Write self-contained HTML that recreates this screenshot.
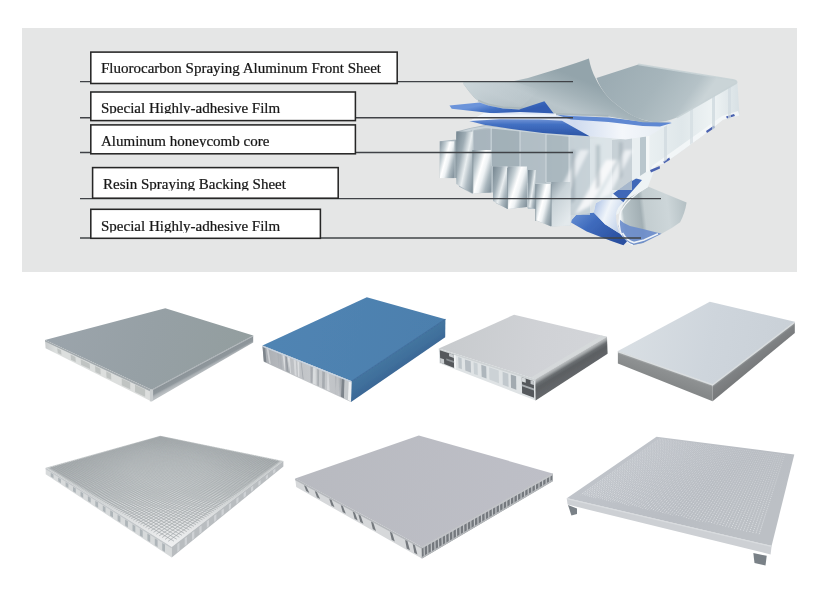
<!DOCTYPE html>
<html lang="en">
<head>
<meta charset="utf-8">
<title>Aluminum honeycomb panel structure</title>
<style>
html,body{margin:0;padding:0;background:#ffffff;}
body{width:818px;height:594px;overflow:hidden;position:relative;font-family:"Liberation Serif",serif;}
svg{position:absolute;left:0;top:0;display:block;}
text{font-family:"Liberation Serif",serif;font-size:15px;fill:#151515;stroke:#151515;stroke-width:0.22px;}
</style>
</head>
<body>
<svg width="818" height="594" viewBox="0 0 818 594">
<defs>
  <filter id="soft" x="-5%" y="-5%" width="110%" height="110%"><feGaussianBlur stdDeviation="0.45"/></filter>
  <filter id="soft2" x="-5%" y="-5%" width="110%" height="110%"><feGaussianBlur stdDeviation="0.8"/></filter>
  <filter id="softI" x="-5%" y="-5%" width="110%" height="110%"><feGaussianBlur stdDeviation="0.6"/></filter>
  <filter id="soft3" x="-10%" y="-10%" width="120%" height="120%"><feGaussianBlur stdDeviation="1.6"/></filter>
  <clipPath id="c2"><rect x="91" y="92" width="264" height="21.6"/></clipPath>
  <clipPath id="c3"><rect x="91" y="125" width="264" height="22"/></clipPath>
  <clipPath id="c4"><rect x="93" y="168" width="245" height="22.6"/></clipPath>
  <clipPath id="c5"><rect x="91" y="209" width="229" height="23.4"/></clipPath>
  <linearGradient id="p1top" gradientUnits="userSpaceOnUse" x1="60" y1="320" x2="240" y2="370"><stop offset="0" stop-color="#9ba4ab"/><stop offset="0.5" stop-color="#96a0a5"/><stop offset="1" stop-color="#939e9f"/></linearGradient>
  <linearGradient id="p1side" gradientUnits="userSpaceOnUse" x1="45" y1="0" x2="152" y2="0"><stop offset="0" stop-color="#c9cccd"/><stop offset="0.1" stop-color="#dcdfde"/><stop offset="1" stop-color="#dcdedd"/></linearGradient>
  <linearGradient id="p2top" gradientUnits="userSpaceOnUse" x1="280" y1="320" x2="440" y2="360"><stop offset="0" stop-color="#5084b3"/><stop offset="1" stop-color="#4c7fad"/></linearGradient>
  <linearGradient id="p2side" gradientUnits="userSpaceOnUse" x1="263" y1="0" x2="352" y2="0"><stop offset="0" stop-color="#a9adb2"/><stop offset="0.3" stop-color="#bcbfc3"/><stop offset="0.6" stop-color="#c7cacd"/><stop offset="1" stop-color="#babdc1"/></linearGradient>
  <linearGradient id="p3top" gradientUnits="userSpaceOnUse" x1="450" y1="330" x2="600" y2="360"><stop offset="0" stop-color="#c8cbce"/><stop offset="0.6" stop-color="#d0d2d6"/><stop offset="1" stop-color="#d3d5d9"/></linearGradient>
  <linearGradient id="p4top" gradientUnits="userSpaceOnUse" x1="630" y1="330" x2="790" y2="360"><stop offset="0" stop-color="#d8dee3"/><stop offset="0.5" stop-color="#ced5dc"/><stop offset="1" stop-color="#c9d0d7"/></linearGradient>
  <linearGradient id="p5top" gradientUnits="userSpaceOnUse" x1="165" y1="436" x2="168" y2="548"><stop offset="0" stop-color="#c5c9ca"/><stop offset="0.5" stop-color="#cbcfd0"/><stop offset="0.75" stop-color="#dfe1e2"/><stop offset="1" stop-color="#f0f1f2"/></linearGradient>
  <linearGradient id="p6top" gradientUnits="userSpaceOnUse" x1="300" y1="450" x2="540" y2="520"><stop offset="0" stop-color="#b8bac0"/><stop offset="1" stop-color="#bebfc7"/></linearGradient>
  <linearGradient id="p7top" gradientUnits="userSpaceOnUse" x1="640" y1="440" x2="720" y2="545"><stop offset="0" stop-color="#c0c4ca"/><stop offset="0.6" stop-color="#b9bdc3"/><stop offset="1" stop-color="#bcc0c5"/></linearGradient>
  <linearGradient id="p1right" gradientUnits="userSpaceOnUse" x1="202.3" y1="362.7" x2="206.3" y2="370.1"><stop offset="0" stop-color="#8a9297"/><stop offset="0.55" stop-color="#8f979c"/><stop offset="0.75" stop-color="#a9afb3"/><stop offset="1" stop-color="#b9bec1"/></linearGradient>
  <linearGradient id="p2right" gradientUnits="userSpaceOnUse" x1="398.6" y1="350.3" x2="407.3" y2="363.5"><stop offset="0" stop-color="#44759f"/><stop offset="0.5" stop-color="#40709c"/><stop offset="1" stop-color="#3b6896"/></linearGradient>
  <linearGradient id="p3right" gradientUnits="userSpaceOnUse" x1="571.1" y1="358.0" x2="579.5" y2="372.1"><stop offset="0" stop-color="#c0c3c5"/><stop offset="0.14" stop-color="#a2a6a8"/><stop offset="0.3" stop-color="#6a6e71"/><stop offset="0.5" stop-color="#5b5f62"/><stop offset="1" stop-color="#636669"/></linearGradient>
  <linearGradient id="p4side" gradientUnits="userSpaceOnUse" x1="665.2" y1="367.8" x2="660.7" y2="380.7"><stop offset="0" stop-color="#b2b5b6"/><stop offset="0.2" stop-color="#8e9192"/><stop offset="1" stop-color="#858889"/></linearGradient>
  <linearGradient id="p4right" gradientUnits="userSpaceOnUse" x1="753.7" y1="353.1" x2="760.5" y2="362.0"><stop offset="0" stop-color="#a5a8aa"/><stop offset="0.25" stop-color="#7f8284"/><stop offset="1" stop-color="#787a7c"/></linearGradient>
  <radialGradient id="m5g" gradientUnits="userSpaceOnUse" cx="168" cy="0" r="105" gradientTransform="translate(0,468) scale(1,0.5)"><stop offset="0" stop-color="#000"/><stop offset="0.35" stop-color="#1a1a1a"/><stop offset="0.7" stop-color="#999"/><stop offset="1" stop-color="#fff"/></radialGradient>
  <mask id="m5" maskUnits="userSpaceOnUse" x="40" y="430" width="250" height="125"><rect x="40" y="430" width="250" height="125" fill="url(#m5g)"/></mask>
  <linearGradient id="m7g" gradientUnits="userSpaceOnUse" x1="700" y1="440" x2="680" y2="540"><stop offset="0" stop-color="#555"/><stop offset="0.5" stop-color="#999"/><stop offset="1" stop-color="#fff"/></linearGradient>
  <mask id="m7" maskUnits="userSpaceOnUse" x="560" y="430" width="240" height="125"><rect x="560" y="430" width="240" height="125" fill="url(#m7g)"/></mask>
  <linearGradient id="gTop" gradientUnits="userSpaceOnUse" x1="615" y1="66" x2="690" y2="118"><stop offset="0" stop-color="#9cacb3"/><stop offset="0.5" stop-color="#a6b5bb"/><stop offset="0.85" stop-color="#b5c2c7"/><stop offset="1" stop-color="#cad4d7"/></linearGradient>
  <linearGradient id="gPeel" gradientUnits="userSpaceOnUse" x1="548" y1="66" x2="528" y2="116"><stop offset="0" stop-color="#93a4ab"/><stop offset="0.3" stop-color="#a3b2b8"/><stop offset="0.62" stop-color="#b9c5ca"/><stop offset="0.85" stop-color="#b4c0c5"/><stop offset="1" stop-color="#9eadb3"/></linearGradient>
  <linearGradient id="gPeelL" gradientUnits="userSpaceOnUse" x1="463" y1="0" x2="540" y2="0"><stop offset="0" stop-color="#cdd7db" stop-opacity="0.95"/><stop offset="0.5" stop-color="#c8d2d7" stop-opacity="0.6"/><stop offset="1" stop-color="#c8d2d7" stop-opacity="0"/></linearGradient>
  <linearGradient id="gSide" gradientUnits="userSpaceOnUse" x1="650" y1="0" x2="740" y2="0"><stop offset="0" stop-color="#e9eff1"/><stop offset="0.35" stop-color="#dfe7ea"/><stop offset="0.7" stop-color="#eef3f4"/><stop offset="1" stop-color="#d7e0e4"/></linearGradient>
  <linearGradient id="gBlueA" gradientUnits="userSpaceOnUse" x1="500" y1="101" x2="503" y2="115"><stop offset="0" stop-color="#6c94da"/><stop offset="0.45" stop-color="#4371c4"/><stop offset="1" stop-color="#315cb2"/></linearGradient>
  <linearGradient id="gBlueB" gradientUnits="userSpaceOnUse" x1="0" y1="119" x2="0" y2="135"><stop offset="0" stop-color="#6f93d6"/><stop offset="0.35" stop-color="#4270c2"/><stop offset="1" stop-color="#2e57a8"/></linearGradient>
  <linearGradient id="gBand" gradientUnits="userSpaceOnUse" x1="470" y1="0" x2="660" y2="0"><stop offset="0" stop-color="#f7f9fc"/><stop offset="0.3" stop-color="#e9eff8"/><stop offset="0.55" stop-color="#cfdbef"/><stop offset="0.8" stop-color="#f4f7fb"/><stop offset="1" stop-color="#e8eef4"/></linearGradient>
  <linearGradient id="gCore" gradientUnits="userSpaceOnUse" x1="440" y1="0" x2="650" y2="0"><stop offset="0" stop-color="#a7b4bc"/><stop offset="0.45" stop-color="#bcc7cd"/><stop offset="0.75" stop-color="#dbe3e7"/><stop offset="1" stop-color="#edf2f3"/></linearGradient>
  <linearGradient id="gCell" gradientUnits="objectBoundingBox" x1="0" y1="0.15" x2="1" y2="0.85"><stop offset="0" stop-color="#94a2ab"/><stop offset="0.22" stop-color="#c3ced3"/><stop offset="0.42" stop-color="#ffffff"/><stop offset="0.58" stop-color="#eef2f4"/><stop offset="0.8" stop-color="#a9b6bd"/><stop offset="1" stop-color="#8796a0"/></linearGradient>
  <linearGradient id="gCellD" gradientUnits="objectBoundingBox" x1="0" y1="0.1" x2="1" y2="0.9"><stop offset="0" stop-color="#7b8b95"/><stop offset="0.3" stop-color="#9eacb4"/><stop offset="0.55" stop-color="#e9eef0"/><stop offset="0.75" stop-color="#b0bcc3"/><stop offset="1" stop-color="#82929c"/></linearGradient>
  <linearGradient id="gCurl" gradientUnits="userSpaceOnUse" x1="620" y1="212" x2="688" y2="204"><stop offset="0" stop-color="#f2f6f7"/><stop offset="0.05" stop-color="#b9c5c9"/><stop offset="0.3" stop-color="#a2afb4"/><stop offset="0.36" stop-color="#c3cdd0"/><stop offset="0.7" stop-color="#cdd6d9"/><stop offset="1" stop-color="#b2bec2"/></linearGradient>
  <linearGradient id="gBlue2" gradientUnits="userSpaceOnUse" x1="580" y1="212" x2="612" y2="246"><stop offset="0" stop-color="#5f88cf"/><stop offset="0.35" stop-color="#3f6bbd"/><stop offset="1" stop-color="#2a50a0"/></linearGradient>
  <linearGradient id="gSilver" gradientUnits="userSpaceOnUse" x1="592" y1="210" x2="622" y2="222"><stop offset="0" stop-color="#aec3e6"/><stop offset="0.45" stop-color="#f0f5fa"/><stop offset="1" stop-color="#c2d2ea"/></linearGradient>
  <linearGradient id="gCellM" gradientUnits="objectBoundingBox" x1="0" y1="0" x2="0.6" y2="1"><stop offset="0" stop-color="#8e9da6"/><stop offset="0.4" stop-color="#c9d3d8"/><stop offset="1" stop-color="#e3e9ec"/></linearGradient>

</defs>

<!-- grey diagram panel -->
<rect x="22" y="28" width="775" height="244" fill="#e5e6e6"/>

<g filter="url(#softI)">
<path d="M647.9,186.5 L686.6,202.5 Q685,213 680.1,222.2 Q672,228.5 661.5,233.7 L642.9,243 L632.9,245.1 Q627,243 624.3,239.4 Q620,233 618.6,226.5 Q618.3,219 620,212.2 Q623,204 628.6,197.9 Z" fill="url(#gCurl)"/>
<path d="M619.6,219.4 Q624,224 630,226 L642.9,229 L661.5,233.7 L642.9,243 L632.9,245.1 Q627,243 624.3,239.4 Q620,233 618.6,226.5 Z" fill="#6a8ccb" opacity="0.9"/>
<path d="M622.5,233 Q627,241 634,242.6 L644,240 L658,233.8" stroke="#eef3f8" stroke-width="1.6" fill="none"/>
<path d="M647.9,186.5 Q628,198 621,211 Q617,224 622,236 Q626,243 632.9,245.1" stroke="#f4f7f9" stroke-width="1.3" fill="none"/>
<path d="M634.4,178 L647.2,171 L656.4,165.5 L652,176 L648,186.8 L628.9,198 Q621,205 619,213.2 L616,215 Q616,206 623.4,202.2 L613,193.6 Z" fill="#eef3f5"/>
<path d="M571.5,220 L576,215 L593.7,212.5 L605,224.2 L619.7,233.4 L627,241.6 L623.4,245.3 L610.5,240.7 L586.7,231.5 L571,222.4 Z" fill="url(#gBlue2)"/>
<path d="M595.7,203.3 L613,193.6 L623.4,202.2 Q616,208 616,215 Q616,225 619.7,233.4 L605,224.2 L593.7,212.5 Z" fill="url(#gSilver)"/>
<path d="M613,193.6 L634.4,178 L642,180 L626.6,197.5 L623.4,202.2 Z" fill="#3f68b8"/>
<path d="M439.8,141.3 L456,139.5 L456.3,131.6 L470,128 L485,125 L560,134 L610,138 L649.5,135.5 L649.5,172 L647.2,171 L634.4,178 L613,193.6 L595.7,203.3 L593.7,212.5 L576,215 L571.5,220 L570.6,225.5 L551.2,226.5 L536.7,220.7 L535.7,209 L528,209 L527,207 L507.6,209.1 L496,203.3 L493,192.6 L491.2,192.6 L471.8,193.6 L459.2,186.8 L456.3,178.1 L439.8,178.1 Z" fill="url(#gCore)"/>
<path d="M456.3,133.6 L472.8,131.6 L472.8,166 L456.3,166 Z" fill="#98a7af" opacity="0.8"/>
<path d="M472.8,131 L491.2,129 L491.2,166 L472.8,166 Z" fill="#a6b3bb" opacity="0.8"/>
<path d="M491.2,129 L520,127 L520,166 L491.2,166 Z" fill="#9eacb4" opacity="0.8"/>
<path d="M520,132 L546,130 L546,183 L520,183 Z" fill="#afbcc3" opacity="0.8"/>
<path d="M546,135 L569,133 L569,182 L546,182 Z" fill="#a3b1b9" opacity="0.8"/>
<path d="M569,137 L590,135 L590,215 L569,215 Z" fill="#c3ced4" opacity="0.8"/>
<path d="M590,139 L612,137 L612,200 L590,200 Z" fill="#dbe3e7" opacity="0.8"/>
<path d="M612,140 L632,138 L632,190 L612,190 Z" fill="#c0cbd1" opacity="0.8"/>
<path d="M457,133.5 L471,129.5 L486,127 L530,131.5 L575,136.5" stroke="#ccd6db" stroke-width="2" fill="none" opacity="0.9"/>
<path d="M472.8,130 L472.8,166" stroke="#d5dee2" stroke-width="1.2" opacity="0.75"/>
<path d="M491.2,128 L491.2,166" stroke="#d5dee2" stroke-width="1.2" opacity="0.75"/>
<path d="M520,131 L520,168" stroke="#d5dee2" stroke-width="1.2" opacity="0.75"/>
<path d="M546,134 L546,182" stroke="#d5dee2" stroke-width="1.2" opacity="0.75"/>
<path d="M569,136 L569,184" stroke="#d5dee2" stroke-width="1.2" opacity="0.75"/>
<path d="M632,138 L640,137.5 L640,176 L632,181 Z" fill="#e9eff1"/>
<path d="M640,137.5 L646,136.5 L646,172 L640,176 Z" fill="#b9c6cd"/>
<path d="M646,136.5 L649.8,135.5 L649.8,171 L646,172 Z" fill="#f4f7f8"/>
<g filter="url(#soft3)">
<path d="M575,214 L606,160 L617,160 L590,206 Z" fill="#fbfcfd" opacity="0.85"/>
<path d="M598,200 L625,150 L633,150 L610,194 Z" fill="#fbfcfd" opacity="0.7"/>
<path d="M555,200 L580,150 L589,150 L566,196 Z" fill="#fbfcfd" opacity="0.65"/>
<path d="M571,150 L575,150 L575,200 L571,204 Z" fill="#8f9ea7" opacity="0.55"/>
<path d="M596,145 L600,145 L600,186 L596,190 Z" fill="#8f9ea7" opacity="0.45"/>
<path d="M619,142 L622.5,142 L622.5,176 L619,180 Z" fill="#8f9ea7" opacity="0.45"/>
</g>
<path d="M439.8,141.3 L454.4,141.3 L454.4,178.1 L439.8,178.1 Z" fill="url(#gCell)"/>
<path d="M456.3,131.6 L472.8,131.6 L472.8,193.6 L456.3,184 Z" fill="url(#gCellD)"/>
<path d="M472.8,150 L491.2,150 L491.2,192.6 L472.8,193.6 Z" fill="url(#gCell)"/>
<path d="M493,166.5 L507.6,166.5 L507.6,209.1 L493,201 Z" fill="url(#gCellD)"/>
<path d="M507.6,166.5 L527,166.5 L527,207 L507.6,209.1 Z" fill="url(#gCell)"/>
<path d="M528,170 L535.7,170 L535.7,209 L528,207 Z" fill="url(#gCellD)"/>
<path d="M535.7,183.9 L551.2,183.9 L551.2,226.5 L535.7,220 Z" fill="url(#gCell)"/>
<path d="M551.2,182 L570.6,182 L570.6,225.5 L551.2,226.5 Z" fill="url(#gCellM)"/>
<path d="M456,140 L456,178" stroke="#7f8e97" stroke-width="0.9" opacity="0.8"/>
<path d="M472.8,150 L472.8,193" stroke="#7f8e97" stroke-width="0.9" opacity="0.8"/>
<path d="M507.6,168 L507.6,209" stroke="#7f8e97" stroke-width="0.9" opacity="0.8"/>
<path d="M535.7,184 L535.7,221" stroke="#7f8e97" stroke-width="0.9" opacity="0.8"/>
<path d="M551.2,184 L551.2,226" stroke="#7f8e97" stroke-width="0.9" opacity="0.8"/>
<path d="M649.5,135.5 L676.8,117.6 L737.4,82 L739.5,115.4 L723,119.8 L703.2,135.2 L679,152.9 L663.6,163.8 L656.4,165.5 L649.5,172 Z" fill="url(#gSide)"/>
<path d="M652,166 L680,146 L704,129 L722,116 L738,111 L739.5,115.4 L723,119.8 L703.2,135.2 L679,152.9 L663.6,163.8 L656.4,165.5 L649.5,172 Z" fill="#f6f9fa" opacity="0.8"/>
<polygon points="650,170 659.6,166 660,168.4 651,172.5" fill="#4a62b0"/>
<polygon points="663.4,161.6 669.3,157.5 670,159.7 664,163.6" fill="#4a62b0"/>
<polygon points="706,131 714,125.5 715,127.5 707,133" fill="#4a62b0"/>
<polygon points="726,116.5 734,114 735,116 727,118.6" fill="#4a62b0"/>
<path d="M664,126.0 L667,124.0 L667,160.0 L664,162.0 Z" fill="#cfd9de" opacity="0.7"/>
<path d="M690,110.4 L693,108.4 L693,142.8 L690,144.8 Z" fill="#d3dde1" opacity="0.7"/>
<path d="M712,97.2 L715,95.2 L715,128.3 L712,130.3 Z" fill="#cbd6db" opacity="0.7"/>
<path d="M728,87.6 L731,85.6 L731,117.8 L728,119.8 Z" fill="#d0dadf" opacity="0.7"/>
<path d="M596.5,78 L638.3,64.4 L734,80 Q738,81 736,83.5 L676.8,117.6 Q664,123 652.6,122 Q637,119 628.4,113.2 Q616,105 608.6,97.8 Q600,88 596.5,78 Z" fill="url(#gTop)"/>
<path d="M638.3,64.4 L734,80 Q738,81 736,83.5 L676.8,117.6" stroke="#c7d1d5" stroke-width="1.6" fill="none" opacity="0.9"/>
<path d="M484,113 L560,113 L608.5,118.2 L642.7,122.5 L671.8,122.5 L649.5,135.8 L625.6,139.6 L589.6,136.2 L560,128 L520,120 L469.3,120.9 Z" fill="url(#gBand)"/>
<path d="M469.3,120.9 L500,119.3 L540,119.6 L562,120.8 L577.6,129.4 L589.6,136.2 L560,134.3 L542.7,132.9 L513.3,129.2 L484,124.8 Z" fill="url(#gBlueB)"/>
<path d="M556,114.5 L570.8,116 L608.5,117.4 L642.7,121.7 L670,122.6 L671.8,123 L660,126.6 L642.7,126 L608.5,122 L570.8,119.6 Z" fill="#5f88d2"/>
<path d="M463.5,82.6 L513,81.2 L528,77.9 L542.7,73.5 L560,68.3 Q577,63 588.9,58.6 Q591,70 595.4,78 Q600,88 608.6,97.8 Q616,105 628.4,113.2 Q640,120 652.6,122 Q662,123 671,121.8 L642.7,122.2 L608.5,116.4 L555.9,114.5 L519,108.7 L503,108 L488.4,105 Q480,102 475.2,98.4 Q469,92 463.5,84 Z" fill="url(#gPeel)"/>
<path d="M463.5,82.6 L513,81.2 L540,90 L519,108.7 L503,108 L488.4,105 Q480,102 475.2,98.4 Q469,92 463.5,84 Z" fill="url(#gPeelL)"/>
<path d="M478,100.5 Q483,103 488.4,104.6 L503,107.6 L519,108.3 L555.9,114 L608.5,116" stroke="#9fadb3" stroke-width="2.2" fill="none" opacity="0.55"/>
<path d="M449.5,105.4 L479.6,102.5 L488.4,105.4 L503,108.4 L519.2,109.4 L544.4,101.3 L554.4,114.5 L503,114.5 L476.7,111.6 L451.7,108.7 Z" fill="url(#gBlueA)"/>
<path d="M484,113.4 L520,112 L556,113.6 L556,116 L520,116.6 L480,116 Z" fill="#f3f6fb" opacity="0.9"/>
</g>


<!-- leader lines -->
<g stroke="#404346" stroke-width="1.45" fill="none" filter="url(#soft)">
  <line x1="80" y1="81.6" x2="573" y2="81.6"/>
  <line x1="80" y1="117.8" x2="573" y2="117.8"/>
  <line x1="80" y1="152.4" x2="573" y2="152.4"/>
  <line x1="80" y1="198.6" x2="661" y2="198.6"/>
  <line x1="80" y1="238" x2="641" y2="238"/>
</g>

<!-- label boxes -->
<g fill="#ffffff" stroke="#262626" stroke-width="1.55" filter="url(#soft)">
  <rect x="90.8" y="52.1" width="306.4" height="31.4"/>
  <rect x="90.8" y="92" width="264.6" height="28.6"/>
  <rect x="90.8" y="124.9" width="264.6" height="28.9"/>
  <rect x="92.6" y="167.6" width="245.6" height="30.6"/>
  <rect x="90.8" y="209.3" width="229.6" height="29"/>
</g>
<g filter="url(#soft)">
  <text x="101" y="73.1">Fluorocarbon Spraying Aluminum Front Sheet</text>
  <g clip-path="url(#c2)"><text x="101" y="112.6">Special Highly-adhesive Film</text></g>
  <g clip-path="url(#c3)"><text x="101" y="146.2">Aluminum honeycomb core</text></g>
  <g clip-path="url(#c4)"><text x="103" y="189">Resin Spraying Backing Sheet</text></g>
  <g clip-path="url(#c5)"><text x="101" y="231">Special Highly-adhesive Film</text></g>
</g>

<!-- product 1 : grey honeycomb panel -->
<g filter="url(#soft)">
<polygon points="45.0,340.0 165.3,308.2 253.2,335.6 151.5,389.8" fill="url(#p1top)"/>
<polygon points="45.0,340.0 151.5,389.8 151.5,401.6 45.6,348.3" fill="url(#p1side)"/>
<polygon points="45.0,340.0 151.5,389.8 151.5,392.0 45.0,341.6" fill="#a3aaae"/>
<polygon points="57.2,348.3 61.0,350.3 61.5,354.7 57.8,353.0" fill="#aeb2b0" opacity="0.6"/>
<polygon points="70.6,354.6 75.4,357.0 75.8,361.9 71.0,359.7" fill="#aeb2b0" opacity="0.6"/>
<polygon points="80.7,359.3 89.7,363.7 90.1,369.1 81.1,364.8" fill="#aeb2b0" opacity="0.6"/>
<polygon points="95.1,366.0 100.4,368.7 100.7,374.4 95.4,372.0" fill="#aeb2b0" opacity="0.6"/>
<polygon points="106.2,371.2 111.0,373.7 111.3,379.7 106.5,377.5" fill="#aeb2b0" opacity="0.6"/>
<polygon points="121.7,378.5 130.2,382.6 130.3,389.3 121.8,385.3" fill="#aeb2b0" opacity="0.6"/>
<polygon points="135.0,384.7 145.1,389.6 145.1,396.8 135.1,391.9" fill="#aeb2b0" opacity="0.6"/>
<polygon points="151.5,389.8 253.2,335.6 253.2,342.4 151.5,401.6" fill="url(#p1right)"/>
<path d="M151.5,390.40000000000003 L253.2,336.1" stroke="#b3b9bd" stroke-width="1" fill="none"/>
<polygon points="149.9,389.4 153.1,389.4 153.1,401.0 149.9,401.4" fill="#c9cdcf"/>
</g>
<!-- product 2 : blue panel -->
<g filter="url(#soft)">
<polygon points="262.5,345.4 366.8,297.3 445.4,319.3 351.8,381.3" fill="url(#p2top)"/>
<polygon points="262.5,345.4 351.8,381.3 351.0,402.0 263.8,361.8" fill="url(#p2side)"/>
<polygon points="283.5,355.3 284.4,355.7 284.6,370.4 284.7,370.4" fill="#f3f4f5" opacity="0.55"/>
<polygon points="266.7,348.6 268.5,349.3 270.8,364.0 269.1,363.3" fill="#e9ebec" opacity="0.55"/>
<polygon points="282.4,354.9 284.2,355.6 286.3,371.2 284.4,370.3" fill="#e9ebec" opacity="0.55"/>
<polygon points="285.5,356.2 288.1,357.2 290.0,372.9 287.6,371.8" fill="#8e949a" opacity="0.55"/>
<polygon points="327.4,373.0 328.5,373.4 329.6,391.1 327.0,389.9" fill="#e9ebec" opacity="0.55"/>
<polygon points="339.8,378.0 342.2,378.9 342.4,397.0 338.7,395.3" fill="#e9ebec" opacity="0.55"/>
<polygon points="317.4,369.0 319.1,369.6 318.9,386.2 317.1,385.4" fill="#9ba1a6" opacity="0.55"/>
<polygon points="338.6,377.5 340.9,378.4 339.5,395.7 339.4,395.7" fill="#a5abb0" opacity="0.55"/>
<polygon points="287.9,357.1 290.0,357.9 291.1,373.4 289.9,372.8" fill="#e9ebec" opacity="0.55"/>
<polygon points="297.3,360.9 299.2,361.7 299.4,377.2 298.1,376.6" fill="#f3f4f5" opacity="0.55"/>
<polygon points="285.4,356.1 287.6,357.0 289.1,372.5 285.4,370.7" fill="#8e949a" opacity="0.55"/>
<polygon points="287.0,356.7 288.7,357.4 288.9,372.4 288.7,372.3" fill="#f3f4f5" opacity="0.55"/>
<polygon points="317.5,369.0 318.4,369.4 318.6,386.1 318.3,385.9" fill="#9ba1a6" opacity="0.55"/>
<polygon points="279.5,353.7 281.0,354.3 282.5,369.4 280.3,368.4" fill="#a5abb0" opacity="0.55"/>
<polygon points="335.4,376.2 336.3,376.6 335.8,394.0 336.0,394.1" fill="#8e949a" opacity="0.55"/>
<polygon points="310.4,366.2 312.8,367.1 312.5,383.3 310.6,382.4" fill="#8e949a" opacity="0.55"/>
<polygon points="300.8,362.3 301.6,362.6 303.6,379.2 302.7,378.7" fill="#8e949a" opacity="0.55"/>
<polygon points="322.3,370.9 324.9,372.0 324.7,388.9 322.1,387.7" fill="#8e949a" opacity="0.55"/>
<polygon points="277.1,352.8 279.1,353.6 279.3,367.9 278.9,367.8" fill="#a5abb0" opacity="0.55"/>
<polygon points="313.2,367.3 315.6,368.3 315.8,384.8 312.8,383.4" fill="#e9ebec" opacity="0.55"/>
<polygon points="339.9,378.0 341.3,378.6 341.0,396.4 339.5,395.7" fill="#8e949a" opacity="0.55"/>
<polygon points="293.6,359.4 295.8,360.3 296.6,375.9 294.7,375.1" fill="#e9ebec" opacity="0.55"/>
<polygon points="262.5,346.6 265.2,347.7 266.4,362.4 263.8,361.2" fill="#7e858c"/>
<polygon points="341.5,378.4 344.7,379.6 344.0,398.2 341.0,396.8" fill="#7d848b"/>
<polygon points="344.7,379.6 348.7,381.2 347.9,400.0 344.0,398.2" fill="#c5c9cc"/>
<polygon points="348.7,381.2 351.8,382.5 351.0,401.4 347.9,400.0" fill="#eef0f1"/>
<path d="M262.5,346.2 L351.8,382.1" stroke="#c9d6e4" stroke-width="1.1" fill="none"/>
<polygon points="351.8,381.3 445.4,319.3 445.2,337.2 351.0,402.0" fill="url(#p2right)"/>
<path d="M351.8,381.3 L445.4,319.3" stroke="#416f9e" stroke-width="1.2" fill="none"/>
</g>
<!-- product 3 : framed panel -->
<g filter="url(#soft)">
<polygon points="438.8,348.4 514.1,314.7 607.0,336.8 535.3,379.2" fill="url(#p3top)"/>
<polygon points="535.3,379.2 607.0,336.8 601.4,335.5 530.5,377.7" fill="#d6d9db" opacity="0.8"/>
<polygon points="438.8,348.4 535.3,379.2 535.6,400.4 439.4,363.2" fill="#dfe3e5"/>
<polygon points="438.8,348.4 535.3,379.2 535.3,381.3 438.9,349.9" fill="#cfd3d5"/>
<polygon points="439.8,350.2 453.8,354.8 454.3,367.9 440.3,362.5" fill="#54585b"/>
<polygon points="521.8,377.3 533.9,381.3 534.1,397.7 522.1,393.2" fill="#54585b"/>
<polygon points="453.8,354.8 455.7,355.4 456.2,368.9 454.3,368.2" fill="#f3f5f6"/>
<polygon points="449.0,353.2 453.8,354.8 453.9,357.9 449.1,356.3" fill="#c9cdd0"/>
<polygon points="440.1,357.9 444.0,359.3 444.2,364.0 440.3,362.5" fill="#c9cdd0"/>
<polygon points="446.3,358.4 454.0,361.1 454.1,363.0 446.4,360.2" fill="#8a8f93"/>
<polygon points="521.8,377.3 525.7,378.6 525.8,382.7 521.9,381.4" fill="#d5d9db"/>
<polygon points="521.9,384.2 534.0,388.4 534.0,390.6 522.0,386.3" fill="#a9aeb2"/>
<polygon points="530.5,380.2 533.9,381.3 533.9,385.1 530.6,383.9" fill="#c5c9cc"/>
<polygon points="458.2,357.1 461.6,358.2 461.9,369.3 458.6,368.1" fill="#b4bcc1" opacity="0.75"/>
<polygon points="464.9,359.4 470.7,361.3 471.1,372.8 465.3,370.6" fill="#a9b2b8" opacity="0.75"/>
<polygon points="473.6,362.2 477.5,363.5 477.8,375.3 474.0,373.9" fill="#c2c9cd" opacity="0.75"/>
<polygon points="481.3,364.8 486.2,366.4 486.5,378.6 481.7,376.7" fill="#9da7ad" opacity="0.75"/>
<polygon points="489.1,367.3 498.7,370.5 499.0,383.3 489.4,379.6" fill="#c5ccd0" opacity="0.75"/>
<polygon points="502.6,371.8 508.3,373.7 508.6,386.9 502.8,384.7" fill="#b7bfc4" opacity="0.75"/>
<polygon points="510.8,374.5 516.1,376.2 516.3,389.8 511.0,387.8" fill="#8e979d" opacity="0.75"/>
<polygon points="535.3,379.2 607.0,336.8 607.6,353.8 535.6,400.4" fill="url(#p3right)"/>
</g>
<!-- product 4 : solid panel -->
<g filter="url(#soft)">
<polygon points="617.9,351.1 709.8,301.7 794.8,321.8 712.6,384.5" fill="url(#p4top)"/>
<polygon points="617.9,351.1 712.6,384.5 712.6,401.2 617.9,363.6" fill="url(#p4side)"/>
<polygon points="712.6,384.5 794.8,321.8 794.8,333.0 712.6,401.2" fill="url(#p4right)"/>
<path d="M617.9,351.6 L712.6,385.0 L794.8,322.3" stroke="#dfe3e5" stroke-width="1.4" fill="none" opacity="0.9"/>
</g>
<!-- product 5 : perforated honeycomb panel -->
<g filter="url(#soft)">
<polygon points="45.7,467.8 160.3,435.7 283.4,460.9 171.7,547.0" fill="url(#p5top)"/>
<path d="M161.5,436.5L49.6,468.4M162.6,436.7L50.4,468.9M163.7,437.0L51.3,469.5M164.8,437.2L52.2,470.0M165.9,437.4L53.2,470.6M167.1,437.7L54.1,471.2M168.2,437.9L55.0,471.7M169.4,438.2L56.0,472.3M170.6,438.4L57.0,472.9M171.8,438.6L57.9,473.5M173.0,438.9L58.9,474.1M174.2,439.1L59.9,474.8M175.4,439.4L61.0,475.4M176.6,439.7L62.0,476.0M177.9,439.9L63.1,476.7M179.1,440.2L64.1,477.3M180.4,440.4L65.2,478.0M181.7,440.7L66.3,478.7M183.0,441.0L67.4,479.4M184.3,441.2L68.6,480.1M185.6,441.5L69.7,480.8M186.9,441.8L70.9,481.5M188.3,442.1L72.1,482.2M189.6,442.3L73.3,483.0M191.0,442.6L74.5,483.7M192.4,442.9L75.7,484.5M193.8,443.2L77.0,485.2M195.2,443.5L78.3,486.0M196.6,443.8L79.6,486.8M198.0,444.1L80.9,487.6M199.5,444.4L82.2,488.5M201.0,444.7L83.6,489.3M202.5,445.0L85.0,490.2M204.0,445.3L86.4,491.0M205.5,445.6L87.8,491.9M207.0,445.9L89.3,492.8M208.6,446.3L90.8,493.7M210.1,446.6L92.3,494.6M211.7,446.9L93.8,495.6M213.3,447.3L95.4,496.5M214.9,447.6L96.9,497.5M216.6,447.9L98.6,498.5M218.2,448.3L100.2,499.5M219.9,448.6L101.9,500.5M221.6,449.0L103.6,501.6M223.3,449.3L105.3,502.7M225.0,449.7L107.1,503.7M226.8,450.0L108.9,504.9M228.5,450.4L110.7,506.0M230.3,450.8L112.6,507.1M232.1,451.1L114.5,508.3M234.0,451.5L116.4,509.5M235.8,451.9L118.4,510.7M237.7,452.3L120.4,512.0M239.6,452.7L122.5,513.2M241.5,453.1L124.6,514.5M243.4,453.5L126.7,515.8M245.4,453.9L128.9,517.2M247.4,454.3L131.2,518.6M249.4,454.7L133.4,520.0M251.4,455.1L135.8,521.4M253.5,455.6L138.2,522.9M255.6,456.0L140.6,524.3M257.7,456.4L143.1,525.9M259.8,456.9L145.6,527.4M262.0,457.3L148.2,529.0M264.2,457.8L150.9,530.7M266.4,458.2L153.6,532.3M268.6,458.7L156.4,534.1M270.9,459.2L159.2,535.8M273.2,459.7L162.1,537.6M275.5,460.1L165.1,539.4M277.9,460.6L168.2,541.3M159.3,436.6L279.5,461.7M158.3,436.9L278.7,462.3M157.2,437.2L277.9,462.9M156.1,437.5L277.1,463.5M155.1,437.8L276.2,464.2M154.0,438.1L275.4,464.8M152.9,438.4L274.5,465.5M151.8,438.7L273.7,466.1M150.7,439.0L272.8,466.8M149.5,439.3L271.9,467.4M148.4,439.7L271.0,468.1M147.3,440.0L270.1,468.8M146.1,440.3L269.2,469.5M144.9,440.6L268.2,470.2M143.8,441.0L267.3,470.9M142.6,441.3L266.3,471.7M141.4,441.6L265.3,472.4M140.2,442.0L264.3,473.1M139.0,442.3L263.3,473.9M137.7,442.7L262.3,474.7M136.5,443.0L261.3,475.5M135.2,443.4L260.2,476.2M134.0,443.7L259.2,477.0M132.7,444.1L258.1,477.9M131.4,444.5L257.0,478.7M130.1,444.8L255.9,479.5M128.8,445.2L254.7,480.4M127.4,445.6L253.6,481.3M126.1,446.0L252.4,482.1M124.8,446.3L251.2,483.0M123.4,446.7L250.0,483.9M122.0,447.1L248.8,484.9M120.6,447.5L247.6,485.8M119.2,447.9L246.3,486.7M117.8,448.3L245.0,487.7M116.3,448.7L243.7,488.7M114.9,449.1L242.4,489.7M113.4,449.5L241.0,490.7M112.0,450.0L239.7,491.7M110.5,450.4L238.3,492.8M109.0,450.8L236.9,493.9M107.4,451.2L235.4,494.9M105.9,451.7L233.9,496.0M104.3,452.1L232.5,497.2M102.8,452.6L230.9,498.3M101.2,453.0L229.4,499.5M99.6,453.5L227.8,500.7M97.9,453.9L226.2,501.9M96.3,454.4L224.6,503.1M94.6,454.9L222.9,504.4M93.0,455.3L221.2,505.6M91.3,455.8L219.5,506.9M89.6,456.3L217.8,508.2M87.8,456.8L216.0,509.6M86.1,457.3L214.1,511.0M84.3,457.8L212.3,512.4M82.5,458.3L210.4,513.8M80.7,458.8L208.5,515.3M78.9,459.3L206.5,516.7M77.0,459.8L204.5,518.3M75.1,460.4L202.4,519.8M73.2,460.9L200.3,521.4M71.3,461.4L198.2,523.0M69.4,462.0L196.0,524.6M67.4,462.5L193.8,526.3M65.4,463.1L191.5,528.0M63.4,463.7L189.2,529.8M61.4,464.2L186.8,531.6M59.3,464.8L184.3,533.4M57.3,465.4L181.9,535.3M55.2,466.0L179.3,537.2M53.0,466.6L176.7,539.2M50.9,467.2L174.0,541.2" stroke="#9da2a6" stroke-width="0.7" opacity="0.45" fill="none"/>
<g mask="url(#m5)">
<path d="M161.5,436.5L49.6,468.4M162.6,436.7L50.4,468.9M163.7,437.0L51.3,469.5M164.8,437.2L52.2,470.0M165.9,437.4L53.2,470.6M167.1,437.7L54.1,471.2M168.2,437.9L55.0,471.7M169.4,438.2L56.0,472.3M170.6,438.4L57.0,472.9M171.8,438.6L57.9,473.5M173.0,438.9L58.9,474.1M174.2,439.1L59.9,474.8M175.4,439.4L61.0,475.4M176.6,439.7L62.0,476.0M177.9,439.9L63.1,476.7M179.1,440.2L64.1,477.3M180.4,440.4L65.2,478.0M181.7,440.7L66.3,478.7M183.0,441.0L67.4,479.4M184.3,441.2L68.6,480.1M185.6,441.5L69.7,480.8M186.9,441.8L70.9,481.5M188.3,442.1L72.1,482.2M189.6,442.3L73.3,483.0M191.0,442.6L74.5,483.7M192.4,442.9L75.7,484.5M193.8,443.2L77.0,485.2M195.2,443.5L78.3,486.0M196.6,443.8L79.6,486.8M198.0,444.1L80.9,487.6M199.5,444.4L82.2,488.5M201.0,444.7L83.6,489.3M202.5,445.0L85.0,490.2M204.0,445.3L86.4,491.0M205.5,445.6L87.8,491.9M207.0,445.9L89.3,492.8M208.6,446.3L90.8,493.7M210.1,446.6L92.3,494.6M211.7,446.9L93.8,495.6M213.3,447.3L95.4,496.5M214.9,447.6L96.9,497.5M216.6,447.9L98.6,498.5M218.2,448.3L100.2,499.5M219.9,448.6L101.9,500.5M221.6,449.0L103.6,501.6M223.3,449.3L105.3,502.7M225.0,449.7L107.1,503.7M226.8,450.0L108.9,504.9M228.5,450.4L110.7,506.0M230.3,450.8L112.6,507.1M232.1,451.1L114.5,508.3M234.0,451.5L116.4,509.5M235.8,451.9L118.4,510.7M237.7,452.3L120.4,512.0M239.6,452.7L122.5,513.2M241.5,453.1L124.6,514.5M243.4,453.5L126.7,515.8M245.4,453.9L128.9,517.2M247.4,454.3L131.2,518.6M249.4,454.7L133.4,520.0M251.4,455.1L135.8,521.4M253.5,455.6L138.2,522.9M255.6,456.0L140.6,524.3M257.7,456.4L143.1,525.9M259.8,456.9L145.6,527.4M262.0,457.3L148.2,529.0M264.2,457.8L150.9,530.7M266.4,458.2L153.6,532.3M268.6,458.7L156.4,534.1M270.9,459.2L159.2,535.8M273.2,459.7L162.1,537.6M275.5,460.1L165.1,539.4M277.9,460.6L168.2,541.3M159.3,436.6L279.5,461.7M158.3,436.9L278.7,462.3M157.2,437.2L277.9,462.9M156.1,437.5L277.1,463.5M155.1,437.8L276.2,464.2M154.0,438.1L275.4,464.8M152.9,438.4L274.5,465.5M151.8,438.7L273.7,466.1M150.7,439.0L272.8,466.8M149.5,439.3L271.9,467.4M148.4,439.7L271.0,468.1M147.3,440.0L270.1,468.8M146.1,440.3L269.2,469.5M144.9,440.6L268.2,470.2M143.8,441.0L267.3,470.9M142.6,441.3L266.3,471.7M141.4,441.6L265.3,472.4M140.2,442.0L264.3,473.1M139.0,442.3L263.3,473.9M137.7,442.7L262.3,474.7M136.5,443.0L261.3,475.5M135.2,443.4L260.2,476.2M134.0,443.7L259.2,477.0M132.7,444.1L258.1,477.9M131.4,444.5L257.0,478.7M130.1,444.8L255.9,479.5M128.8,445.2L254.7,480.4M127.4,445.6L253.6,481.3M126.1,446.0L252.4,482.1M124.8,446.3L251.2,483.0M123.4,446.7L250.0,483.9M122.0,447.1L248.8,484.9M120.6,447.5L247.6,485.8M119.2,447.9L246.3,486.7M117.8,448.3L245.0,487.7M116.3,448.7L243.7,488.7M114.9,449.1L242.4,489.7M113.4,449.5L241.0,490.7M112.0,450.0L239.7,491.7M110.5,450.4L238.3,492.8M109.0,450.8L236.9,493.9M107.4,451.2L235.4,494.9M105.9,451.7L233.9,496.0M104.3,452.1L232.5,497.2M102.8,452.6L230.9,498.3M101.2,453.0L229.4,499.5M99.6,453.5L227.8,500.7M97.9,453.9L226.2,501.9M96.3,454.4L224.6,503.1M94.6,454.9L222.9,504.4M93.0,455.3L221.2,505.6M91.3,455.8L219.5,506.9M89.6,456.3L217.8,508.2M87.8,456.8L216.0,509.6M86.1,457.3L214.1,511.0M84.3,457.8L212.3,512.4M82.5,458.3L210.4,513.8M80.7,458.8L208.5,515.3M78.9,459.3L206.5,516.7M77.0,459.8L204.5,518.3M75.1,460.4L202.4,519.8M73.2,460.9L200.3,521.4M71.3,461.4L198.2,523.0M69.4,462.0L196.0,524.6M67.4,462.5L193.8,526.3M65.4,463.1L191.5,528.0M63.4,463.7L189.2,529.8M61.4,464.2L186.8,531.6M59.3,464.8L184.3,533.4M57.3,465.4L181.9,535.3M55.2,466.0L179.3,537.2M53.0,466.6L176.7,539.2M50.9,467.2L174.0,541.2" stroke="#989da1" stroke-width="0.7" opacity="0.55" fill="none"/>
</g>
<polygon points="45.7,467.8 171.7,547.0 171.7,557.6 45.7,474.3" fill="#d7dadb"/>
<polygon points="50.7,472.8 53.5,474.5 53.5,478.3 50.7,476.4" fill="#a4abb0" opacity="0.8"/>
<polygon points="58.2,477.4 60.9,479.2 60.9,483.2 58.2,481.3" fill="#a4abb0" opacity="0.8"/>
<polygon points="65.6,482.1 68.4,483.9 68.4,488.1 65.6,486.3" fill="#a4abb0" opacity="0.8"/>
<polygon points="73.0,486.8 75.8,488.5 75.8,493.0 73.0,491.2" fill="#a4abb0" opacity="0.8"/>
<polygon points="80.5,491.5 83.2,493.2 83.2,497.9 80.5,496.1" fill="#a4abb0" opacity="0.8"/>
<polygon points="87.9,496.1 90.7,497.9 90.7,502.8 87.9,501.0" fill="#a4abb0" opacity="0.8"/>
<polygon points="95.3,500.8 98.1,502.5 98.1,507.8 95.3,505.9" fill="#a4abb0" opacity="0.8"/>
<polygon points="102.8,505.5 105.5,507.2 105.5,512.7 102.8,510.8" fill="#a4abb0" opacity="0.8"/>
<polygon points="110.2,510.2 113.0,511.9 113.0,517.6 110.2,515.7" fill="#a4abb0" opacity="0.8"/>
<polygon points="117.6,514.8 120.4,516.6 120.4,522.5 117.6,520.7" fill="#a4abb0" opacity="0.8"/>
<polygon points="125.1,519.5 127.9,521.2 127.9,527.4 125.1,525.6" fill="#a4abb0" opacity="0.8"/>
<polygon points="132.5,524.2 135.3,525.9 135.3,532.3 132.5,530.5" fill="#a4abb0" opacity="0.8"/>
<polygon points="139.9,528.8 142.7,530.6 142.7,537.2 139.9,535.4" fill="#a4abb0" opacity="0.8"/>
<polygon points="147.4,533.5 150.2,535.3 150.2,542.2 147.4,540.3" fill="#a4abb0" opacity="0.8"/>
<polygon points="154.8,538.2 157.6,539.9 157.6,547.1 154.8,545.2" fill="#a4abb0" opacity="0.8"/>
<polygon points="162.2,542.9 165.0,544.6 165.0,552.0 162.2,550.2" fill="#a4abb0" opacity="0.8"/>
<path d="M45.7,468.5 L171.7,547.7" stroke="#c3c7ca" stroke-width="1.2" fill="none"/>
<polygon points="171.7,547.0 283.4,460.9 283.4,466.4 171.7,557.6" fill="#b9bdc0"/>
<polygon points="177.3,544.2 179.5,542.5 179.5,550.2 177.3,552.0" fill="#d9dcde" opacity="0.7"/>
<polygon points="184.7,538.5 186.9,536.8 186.9,544.2 184.7,546.0" fill="#d9dcde" opacity="0.7"/>
<polygon points="192.0,532.8 194.3,531.1 194.3,538.2 192.0,540.0" fill="#d9dcde" opacity="0.7"/>
<polygon points="199.4,527.1 201.6,525.4 201.6,532.2 199.4,534.0" fill="#d9dcde" opacity="0.7"/>
<polygon points="206.8,521.5 209.0,519.7 209.0,526.1 206.8,528.0" fill="#d9dcde" opacity="0.7"/>
<polygon points="214.1,515.8 216.4,514.1 216.4,520.1 214.1,521.9" fill="#d9dcde" opacity="0.7"/>
<polygon points="221.5,510.1 223.8,508.4 223.8,514.1 221.5,515.9" fill="#d9dcde" opacity="0.7"/>
<polygon points="228.9,504.4 231.1,502.7 231.1,508.1 228.9,509.9" fill="#d9dcde" opacity="0.7"/>
<polygon points="236.3,498.7 238.5,497.0 238.5,502.1 236.3,503.9" fill="#d9dcde" opacity="0.7"/>
<polygon points="243.6,493.1 245.9,491.3 245.9,496.0 243.6,497.9" fill="#d9dcde" opacity="0.7"/>
<polygon points="251.0,487.4 253.2,485.6 253.2,490.0 251.0,491.8" fill="#d9dcde" opacity="0.7"/>
<polygon points="258.4,481.7 260.6,480.0 260.6,484.0 258.4,485.8" fill="#d9dcde" opacity="0.7"/>
<polygon points="265.8,476.0 268.0,474.3 268.0,478.0 265.8,479.8" fill="#d9dcde" opacity="0.7"/>
<polygon points="273.1,470.3 275.4,468.6 275.4,472.0 273.1,473.8" fill="#d9dcde" opacity="0.7"/>
</g>
<!-- product 6 : large honeycomb panel -->
<g filter="url(#soft)">
<polygon points="295.2,478.4 418.8,435.4 552.6,473.4 421.5,546.8" fill="url(#p6top)"/>
<polygon points="295.2,478.4 421.5,546.8 421.8,558.6 296.2,487.0" fill="#d6d8da"/>
<path d="M295.2,479.29999999999995 L421.5,547.8" stroke="#b6b9bd" stroke-width="1.6" fill="none"/>
<polygon points="304.0,485.2 306.3,486.4 309.4,492.9 306.2,491.1" fill="#63686d" opacity="0.85"/>
<polygon points="314.8,491.0 317.0,492.2 320.1,499.0 316.9,497.2" fill="#63686d" opacity="0.85"/>
<polygon points="329.3,498.9 331.6,500.1 334.5,507.2 331.4,505.4" fill="#63686d" opacity="0.85"/>
<polygon points="340.7,505.0 342.9,506.3 345.8,513.7 342.7,511.9" fill="#63686d" opacity="0.85"/>
<polygon points="352.7,511.5 354.9,512.8 357.7,520.5 354.6,518.7" fill="#63686d" opacity="0.85"/>
<polygon points="358.4,514.6 360.6,515.8 363.4,523.7 360.3,521.9" fill="#63686d" opacity="0.85"/>
<polygon points="371.0,521.4 373.3,522.7 376.0,530.9 372.8,529.1" fill="#63686d" opacity="0.85"/>
<polygon points="389.9,531.7 392.2,532.9 394.8,541.6 391.7,539.8" fill="#63686d" opacity="0.85"/>
<polygon points="405.1,539.9 407.4,541.1 409.9,550.2 406.7,548.4" fill="#63686d" opacity="0.85"/>
<polygon points="412.7,544.0 414.9,545.2 417.4,554.5 414.3,552.7" fill="#63686d" opacity="0.85"/>
<polygon points="421.5,546.8 552.6,473.4 552.6,481.1 421.8,558.6" fill="#74797e"/>
<polygon points="423.5,545.7 424.6,545.0 424.9,556.7 423.8,557.4" fill="#c4c7ca"/>
<polygon points="427.1,543.7 428.2,543.0 428.5,554.6 427.3,555.3" fill="#c4c7ca"/>
<polygon points="430.7,541.7 431.8,541.0 432.1,552.5 430.9,553.2" fill="#c4c7ca"/>
<polygon points="434.2,539.7 435.4,539.0 435.7,550.4 434.5,551.1" fill="#c4c7ca"/>
<polygon points="437.8,537.7 439.0,537.0 439.3,548.2 438.1,548.9" fill="#c4c7ca"/>
<polygon points="441.4,535.6 442.6,535.0 442.9,546.1 441.7,546.8" fill="#c4c7ca"/>
<polygon points="445.0,533.6 446.2,533.0 446.4,544.0 445.3,544.7" fill="#c4c7ca"/>
<polygon points="448.6,531.6 449.8,531.0 450.0,541.9 448.8,542.6" fill="#c4c7ca"/>
<polygon points="452.2,529.6 453.4,528.9 453.6,539.8 452.4,540.4" fill="#c4c7ca"/>
<polygon points="455.8,527.6 457.0,526.9 457.2,537.6 456.0,538.3" fill="#c4c7ca"/>
<polygon points="459.4,525.6 460.6,524.9 460.8,535.5 459.6,536.2" fill="#c4c7ca"/>
<polygon points="463.0,523.6 464.2,522.9 464.4,533.4 463.2,534.1" fill="#c4c7ca"/>
<polygon points="466.6,521.6 467.8,520.9 467.9,531.3 466.8,532.0" fill="#c4c7ca"/>
<polygon points="470.2,519.6 471.3,518.9 471.5,529.1 470.4,529.8" fill="#c4c7ca"/>
<polygon points="473.8,517.5 474.9,516.9 475.1,527.0 473.9,527.7" fill="#c4c7ca"/>
<polygon points="477.3,515.5 478.5,514.9 478.7,524.9 477.5,525.6" fill="#c4c7ca"/>
<polygon points="480.9,513.5 482.1,512.9 482.3,522.8 481.1,523.5" fill="#c4c7ca"/>
<polygon points="484.5,511.5 485.7,510.8 485.9,520.6 484.7,521.3" fill="#c4c7ca"/>
<polygon points="488.1,509.5 489.3,508.8 489.4,518.5 488.3,519.2" fill="#c4c7ca"/>
<polygon points="491.7,507.5 492.9,506.8 493.0,516.4 491.9,517.1" fill="#c4c7ca"/>
<polygon points="495.3,505.5 496.5,504.8 496.6,514.3 495.4,515.0" fill="#c4c7ca"/>
<polygon points="498.9,503.5 500.1,502.8 500.2,512.1 499.0,512.8" fill="#c4c7ca"/>
<polygon points="502.5,501.5 503.7,500.8 503.8,510.0 502.6,510.7" fill="#c4c7ca"/>
<polygon points="506.1,499.4 507.3,498.8 507.4,507.9 506.2,508.6" fill="#c4c7ca"/>
<polygon points="509.7,497.4 510.9,496.8 511.0,505.8 509.8,506.5" fill="#c4c7ca"/>
<polygon points="513.3,495.4 514.4,494.8 514.5,503.7 513.4,504.4" fill="#c4c7ca"/>
<polygon points="516.9,493.4 518.0,492.7 518.1,501.5 516.9,502.2" fill="#c4c7ca"/>
<polygon points="520.5,491.4 521.6,490.7 521.7,499.4 520.5,500.1" fill="#c4c7ca"/>
<polygon points="524.0,489.4 525.2,488.7 525.3,497.3 524.1,498.0" fill="#c4c7ca"/>
<polygon points="527.6,487.4 528.8,486.7 528.9,495.2 527.7,495.9" fill="#c4c7ca"/>
<polygon points="531.2,485.4 532.4,484.7 532.5,493.0 531.3,493.7" fill="#c4c7ca"/>
<polygon points="534.8,483.4 536.0,482.7 536.0,490.9 534.9,491.6" fill="#c4c7ca"/>
<polygon points="538.4,481.3 539.6,480.7 539.6,488.8 538.4,489.5" fill="#c4c7ca"/>
<polygon points="542.0,479.3 543.2,478.7 543.2,486.7 542.0,487.4" fill="#c4c7ca"/>
<polygon points="545.6,477.3 546.8,476.7 546.8,484.5 545.6,485.2" fill="#c4c7ca"/>
<polygon points="549.2,475.3 550.4,474.6 550.4,482.4 549.2,483.1" fill="#c4c7ca"/>
<path d="M421.5,547.5999999999999 L552.6,474.09999999999997" stroke="#c3c5c9" stroke-width="1.8" fill="none"/>
<path d="M421.8,557.9 L552.6,480.5" stroke="#b4b7ba" stroke-width="1.5" fill="none"/>
</g>
<!-- product 7 : perforated tray -->
<g filter="url(#soft)">
<polygon points="568.0,505.0 577.0,508.4 577.0,514.0 571.4,515.4" fill="#7a8187"/>
<polygon points="753.3,553.0 766.7,555.8 765.5,565.6 754.5,563.1" fill="#7a8187"/>
<polygon points="566.8,498.2 656.5,436.8 794.3,454.4 771.6,546.0" fill="url(#p7top)"/>
<g mask="url(#m7)">
<path d="M659.6,438.8L580.8,494.7M661.3,438.9L582.9,495.2M662.7,439.2L584.9,495.6M664.4,439.3L587.0,496.1M665.8,439.7L589.0,496.5M667.6,439.7L591.1,497.0M668.9,440.1L593.2,497.5M670.7,440.1L595.3,497.9M672.1,440.5L597.5,498.4M673.9,440.5L599.6,498.9M675.3,440.9L601.7,499.4M677.1,440.9L603.9,499.9M678.5,441.3L606.1,500.3M680.3,441.3L608.3,500.8M681.7,441.7L610.5,501.3M683.6,441.8L612.7,501.8M685.0,442.1L614.9,502.3M686.8,442.2L617.1,502.8M688.3,442.6L619.4,503.3M690.1,442.6L621.6,503.8M691.6,443.0L623.9,504.3M693.5,443.0L626.2,504.9M694.9,443.4L628.5,505.4M696.8,443.5L630.9,505.9M698.3,443.9L633.2,506.4M700.2,443.9L635.5,506.9M701.7,444.3L637.9,507.5M703.6,444.4L640.3,508.0M705.1,444.8L642.7,508.5M707.1,444.8L645.1,509.1M708.6,445.2L647.5,509.6M710.5,445.3L650.0,510.2M712.1,445.7L652.4,510.7M714.0,445.7L654.9,511.3M715.6,446.1L657.4,511.8M717.5,446.2L659.9,512.4M719.2,446.6L662.4,513.0M721.1,446.6L665.0,513.5M722.7,447.0L667.5,514.1M724.7,447.1L670.1,514.7M726.3,447.5L672.7,515.3M728.3,447.6L675.3,515.8M730.0,448.0L677.9,516.4M732.0,448.0L680.5,517.0M733.7,448.5L683.2,517.6M735.6,448.5L685.9,518.2M737.4,448.9L688.6,518.8M739.4,449.0L691.3,519.4M741.1,449.4L694.0,520.0M743.1,449.5L696.7,520.6M744.9,449.9L699.5,521.3M746.9,450.0L702.3,521.9M748.7,450.4L705.1,522.5M750.7,450.5L707.9,523.1M752.5,450.9L710.8,523.8M754.5,451.0L713.6,524.4M756.4,451.4L716.5,525.1M758.4,451.5L719.4,525.7M760.3,451.9L722.3,526.4M762.3,452.0L725.3,527.0M764.2,452.4L728.2,527.7M766.3,452.5L731.2,528.4M768.2,452.9L734.2,529.0M770.3,453.0L737.2,529.7M772.2,453.5L740.3,530.4M774.3,453.5L743.3,531.1M776.2,454.0L746.4,531.8M778.3,454.0L749.5,532.5M780.3,454.5L752.7,533.2M782.4,454.6L755.8,533.9M784.4,455.1L759.0,534.6" stroke="#eff1f3" stroke-width="1.0" opacity="0.85" fill="none" stroke-dasharray="1.0 1.05"/>
</g>
<polygon points="566.8,498.2 771.6,546.0 770.6,554.4 567.6,504.6" fill="#cdd0d4"/>
<path d="M566.8,498.59999999999997 L771.6,546.4" stroke="#d9dcdf" stroke-width="1.2" fill="none"/>
</g>

</svg>
</body>
</html>
